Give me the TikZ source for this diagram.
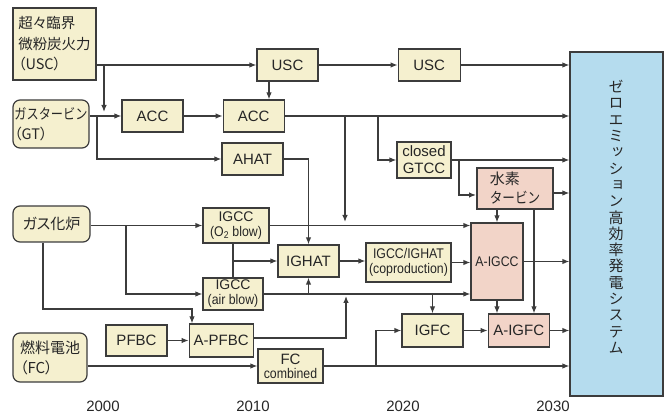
\documentclass[tikz,border=0pt]{standalone}
\usepackage{fontspec}
\setmainfont{Liberation Sans}
\newfontfamily\jpfont[RawFeature=+palt]{Noto Sans CJK JP}
\newfontfamily\jpnarrow[FakeStretch=0.84]{Noto Sans CJK JP}
\newfontfamily\jpvert[RawFeature=+vert]{Noto Sans CJK JP}
\newfontfamily\narrowfont[FakeStretch=0.88]{Liberation Sans}
\usetikzlibrary{arrows.meta, positioning}
\definecolor{boxbeige}{HTML}{F5F0CF}
\definecolor{boxpink}{HTML}{F2D4C8}
\definecolor{boxblue}{HTML}{B5DCEE}
\definecolor{linegray}{HTML}{3C3C3C}
\definecolor{textgray}{HTML}{262626}

\begin{document}
\begin{tikzpicture}[x=1pt, y=-1pt,
    box/.style={draw=linegray, fill=#1, line width=1.2pt, minimum width=61pt, minimum height=32pt, inner sep=1pt, align=center, font=\fontsize{15}{17}\selectfont, text=textgray},
    box/.default=boxbeige,
    srcbox/.style={box, rounded corners=7pt, align=left},
    arrow/.style={-{Latex[length=7pt,width=5.5pt]}, line width=1.2pt, linegray},
    link/.style={line width=1.2pt, linegray},
    yearlab/.style={font=\fontsize{15}{17}\selectfont, text=textgray, inner sep=0pt}
  ]
    \useasboundingbox (0,0) rectangle (670,414);

    \node[box, align=left, minimum width=83pt, minimum height=72pt, font=\jpfont\fontsize{14.5}{20.5}\selectfont] (uscsrc) at (54.5,44) {超々臨界\\微粉炭火力\\（USC）};
    \node[srcbox, minimum width=76pt, minimum height=48pt, font=\jpfont\fontsize{14.5}{20}\selectfont] (gt) at (51,124) {{\jpnarrow ガスタービン}\\（GT）};
    \node[srcbox, minimum width=77pt, minimum height=36pt, font=\jpfont\fontsize{15}{17}\selectfont] (gasifier) at (51.5,224) {ガス化炉};
    \node[srcbox, minimum width=74pt, minimum height=49pt, font=\jpfont\fontsize{15}{20}\selectfont] (fc) at (50,357.5) {燃料電池\\（FC）};

    \node[box] (usc1) at (287.5,65) {USC};
    \node[box, minimum width=62pt, right=79pt of usc1] (usc2) {USC};
    \node[box] (acc1) at (152.5,116) {ACC};
    \node[box, right=39pt of acc1] (acc2) {ACC};
    \node[box] (ahat) at (252.5,159) {AHAT};
    \node[box, minimum width=54pt, minimum height=36pt] (gtcc) at (424,160) {closed\\GTCC};
    \node[box=boxpink, align=left, minimum width=76pt, minimum height=41pt, font=\jpfont\fontsize{15}{19}\selectfont] (h2t) at (515,188.5) {水素\\{\jpnarrow タービン}};
    \node[box, minimum width=66pt, minimum height=35pt, font=\fontsize{14}{15}\selectfont] (igcco) at (236,225.5) {IGCC\\{\narrowfont\fontsize{14}{15}\selectfont (O\textsubscript{2} blow)}};
    \node[box, minimum width=60pt, font=\fontsize{14}{15}\selectfont] (igcca) at (233,294) {IGCC\\{\narrowfont\fontsize{14}{15}\selectfont (air blow)}};
    \node[box] (ighat) at (308.5,261) {IGHAT};
    \node[box, minimum width=85pt, minimum height=39pt, font=\narrowfont\fontsize{14}{15.5}\selectfont] (coprod) at (408.5,262.5) {IGCC/IGHAT\\(coproduction)};
    \node[box=boxpink, minimum width=52pt, minimum height=77pt, font=\narrowfont\fontsize{14}{15}\selectfont] (aigcc) at (497,261.5) {A-IGCC};
    \node[box, minimum height=33pt] (igfc) at (432.5,330.5) {IGFC};
    \node[box=boxpink, minimum height=33pt, right=24pt of igfc] (aigfc) {A-IGFC};
    \node[box, minimum height=31pt] (pfbc) at (136.5,340.5) {PFBC};
    \node[box, minimum width=64pt, minimum height=33pt, right=21pt of pfbc] (apfbc) {A-PFBC};
    \node[box, minimum width=65pt, minimum height=34pt, font=\fontsize{15}{14}\selectfont] (fccomb) at (290.5,366) {FC\\{\narrowfont\fontsize{14}{14}\selectfont combined}};
    \node[box=boxblue, minimum width=93pt, minimum height=344pt] (zero) at (616.5,224) {};
    \node[font=\jpvert\fontsize{15}{16.3}\selectfont, align=center, text=textgray] (zerolab) at (616,217) {ゼ\\ロ\\エ\\ミ\\ッ\\シ\\ョ\\ン\\高\\効\\率\\発\\電\\シ\\ス\\テ\\ム};

    \foreach \yr/\xx in {2000/103, 2010/253, 2020/403, 2030/553}
      \node[yearlab] (y\yr) at (\xx,406.5) {\yr};

    \coordinate (uscfork) at (104,65);
    \coordinate (uscdrop) at (104,112);
    \coordinate (uscacc) at (269,0);
    \coordinate (gtfork) at (97,116);
    \coordinate (accfork) at (345,116);
    \coordinate (accdrop) at (345,222);
    \coordinate (gtccfork) at (378,116);
    \coordinate (h2fork) at (459,160);
    \coordinate (h2in) at (476,195);
    \coordinate (h2drop) at (534,0);
    \coordinate (gasfork) at (126,225.5);
    \coordinate (pfbcturn) at (192,309);
    \coordinate (pfbcup) at (346,296);
    \coordinate (fcfork) at (376,366);

    \draw[arrow] (uscsrc.east |- usc1) -- (usc1);
    \draw[arrow] (uscfork) -- (uscdrop);
    \draw[arrow] (usc1) -- (usc2);
    \draw[arrow] (usc2) -- (zero.west |- usc2);
    \draw[arrow] (uscacc |- usc1.south) -- (uscacc |- acc2.north);
    \draw[arrow] (gt.east |- acc1) -- (acc1);
    \draw[arrow] (gtfork) |- (ahat);
    \draw[arrow] (acc1) -- (acc2);
    \draw[arrow] (acc2) -- (zero.west |- acc2);
    \draw[arrow] (accfork) -- (accdrop);
    \draw[arrow] (gtccfork) |- (gtcc);
    \draw[arrow] (gtcc) -- (zero.west |- gtcc);
    \draw[arrow] (h2fork) |- (h2in);
    \draw[arrow] (h2t.east |- 0,193) -- (zero.west |- 0,193);
    \draw[arrow] (ahat) -| (ighat);
    \draw[arrow] (gasifier.east |- igcco) -- (igcco);
    \draw[arrow] (gasfork) |- (igcca);
    \draw[arrow] ([xshift=-8.5pt]gasifier.south) |- (pfbcturn) -- (pfbcturn |- apfbc.north);
    \draw[arrow] (igcco) -- (aigcc.west |- igcco);
    \draw[link] (igcco.south -| igcca) -- (igcca);
    \draw[arrow] (igcca |- ighat) -- (ighat);
    \draw[arrow] (igcca) -- (aigcc.west |- igcca);
    \draw[arrow] (ighat |- igcca) -- (ighat);
    \draw[arrow] (ighat) -- (coprod.west |- ighat);
    \draw[arrow] (coprod.east) -- (aigcc.west |- coprod.east);
    \draw[arrow] (igfc |- igcca) -- (igfc);
    \draw[arrow] (aigcc) -- (zero.west |- aigcc);
    \draw[arrow] (h2t.south -| aigcc) -- (aigcc);
    \draw[arrow] (h2drop |- h2t.south) -- (h2drop |- aigfc.north);
    \draw[arrow] (aigcc) -- (aigcc |- aigfc.north);
    \draw[arrow] (igfc) -- (aigfc);
    \draw[arrow] (aigfc) -- (zero.west |- aigfc);
    \draw[arrow] (pfbc) -- (apfbc);
    \draw[arrow] (apfbc.east |- 0,338) -| (pfbcup);
    \draw[arrow] (fc.east |- fccomb) -- (fccomb);
    \draw[arrow] (fccomb) -- (zero.west |- fccomb);
    \draw[arrow] (fcfork) |- (igfc);
\end{tikzpicture}
\end{document}
